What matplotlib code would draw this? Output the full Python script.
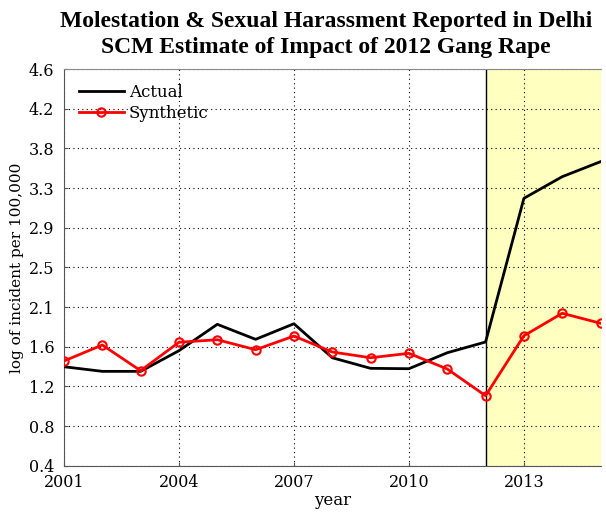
import matplotlib
matplotlib.use("Agg")
import matplotlib.pyplot as plt
import numpy as np

years = list(range(2001, 2016))
actual = [1.448, 1.399, 1.399, 1.618, 1.897, 1.738, 1.903, 1.543, 1.431, 1.427,
          1.596, 1.710, 3.231, 3.460, 3.619]
synthetic = [1.509, 1.678, 1.406, 1.707, 1.734, 1.628, 1.773, 1.604, 1.543, 1.590,
             1.424, 1.141, 1.776, 2.014, 1.908]
xtick_years = [2001, 2004, 2007, 2010, 2013]
ytick_labels = ["0.4", "0.8", "1.2", "1.6", "2.1", "2.5", "2.9", "3.3", "3.8", "4.2", "4.6"]
treat_start, treat_end = 2012, 2015

plt.rcParams['font.family'] = ['DejaVu Serif']

fig = plt.figure(figsize=(6.06, 5.15), dpi=100)
ax = fig.add_axes([0.1056, 0.0957, 0.8854, 0.7703])

ax.axvspan(treat_start, treat_end, facecolor='#FFFFC0', edgecolor='none', zorder=0)
ax.axvline(treat_start, color='black', lw=1.0, zorder=1)

ax.plot(years, actual, color='black', lw=2, label='Actual', zorder=3)
ax.plot(years, synthetic, color='red', lw=2, marker='o', markersize=6,
        markerfacecolor='none', markeredgecolor='red', markeredgewidth=1.5,
        label='Synthetic', zorder=4)

ax.set_xlim(2001, 2015)
ax.set_ylim(0.4, 4.6)
ax.set_xticks(xtick_years)
ax.set_xticklabels([str(y) for y in xtick_years])
yt = np.linspace(0.4, 4.6, len(ytick_labels))
ax.set_yticks(yt)
ax.set_yticklabels(ytick_labels)
ax.tick_params(axis='both', labelsize=11.5, direction='in', length=3, width=0.8,
               color='#555555')
ax.tick_params(axis='y', pad=7)
ax.tick_params(axis='x', pad=6)
ax.grid(True, color='black', linestyle=(0, (1, 3)), lw=0.8)

for s in ['left', 'bottom']:
    ax.spines[s].set_color('#555555')
ax.spines['top'].set_color('#888888')
ax.spines['right'].set_visible(False)

ax.set_xlabel('year', fontsize=12, labelpad=1)
ax.set_ylabel('log of incident per 100,000', fontsize=11, labelpad=3)
ax.set_title('Molestation & Sexual Harassment Reported in Delhi\nSCM Estimate of Impact of 2012 Gang Rape',
             fontsize=17, fontweight='bold', family=['Liberation Serif', 'DejaVu Serif'],
             pad=11.5, linespacing=1.32, x=0.488)

leg = ax.legend(loc='upper left', frameon=False, fontsize=12, handlelength=2.7,
                handletextpad=0.3, borderaxespad=0.5, labelspacing=0.25)

fig.savefig('out.png', dpi=100)
